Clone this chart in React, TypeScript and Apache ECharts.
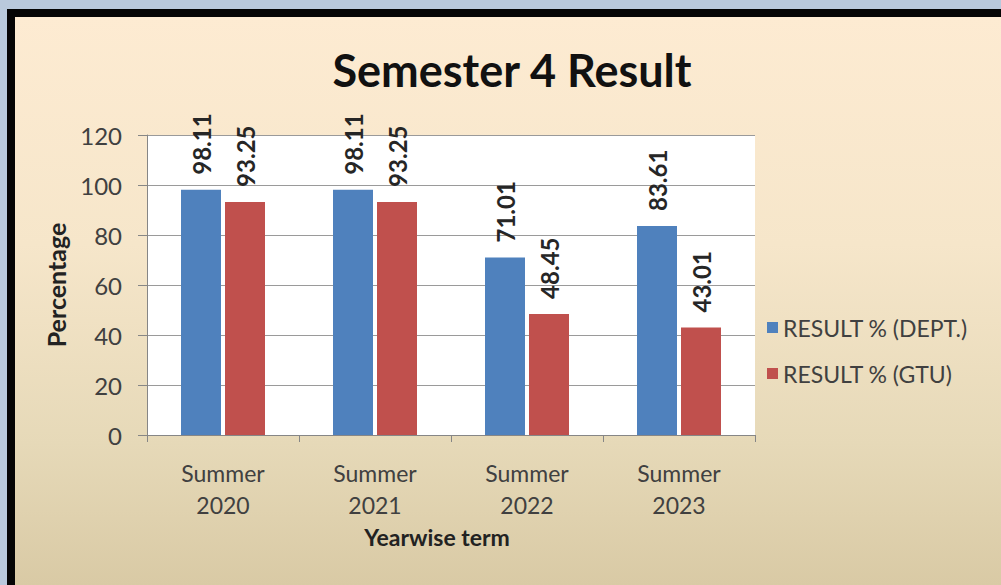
import React, { useEffect, useRef } from "react";
import * as echarts from "echarts";

const categories = ["Summer\n2020", "Summer\n2021", "Summer\n2022", "Summer\n2023"];
const deptValues = [98.11, 98.11, 71.01, 83.61];
const gtuValues = [93.25, 93.25, 48.45, 43.01];
const seriesNames = ["RESULT % (DEPT.)", "RESULT % (GTU)"];
const yTicks = { min: 0, max: 120, interval: 20 };

const FONT = "Lato, 'Open Sans', sans-serif";

export default function App() {
  const ref = useRef<HTMLDivElement>(null);
  useEffect(() => {
    document.body.style.margin = "0";
    if (!ref.current) return;
    const chart = echarts.init(ref.current, undefined, { renderer: "svg" });
    const labelCfg = {
      show: true,
      position: "top",
      rotate: 90,
      align: "left",
      verticalAlign: "middle",
      distance: 15,
      fontFamily: FONT,
      fontSize: 24,
      fontWeight: "bold",
      color: "#262626",
    };
    chart.setOption({
      animation: false,
      textStyle: { fontFamily: FONT },
      title: {
        text: "Semester 4 Result",
        left: 507,
        top: 42,
        textAlign: "center",
        textStyle: { fontFamily: FONT, fontSize: 45, fontWeight: "bold", color: "#111" },
      },
      legend: {
        orient: "vertical",
        left: 762,
        top: 311,
        itemWidth: 11,
        itemHeight: 11,
        itemGap: 23,
        icon: "rect",
        textStyle: { fontFamily: FONT, fontSize: 23, color: "#404040" },
        data: seriesNames,
      },
      grid: {
        left: 147,
        top: 135,
        width: 608,
        height: 300,
        show: true,
        backgroundColor: "#ffffff",
        borderWidth: 0,
      },
      xAxis: {
        type: "category",
        data: categories,
        name: "Yearwise term",
        nameLocation: "middle",
        nameGap: 89,
        nameTextStyle: {
          fontFamily: FONT,
          fontSize: 23,
          fontWeight: "bold",
          color: "#222",
          padding: [0, 28, 0, 0],
        },
        axisLine: { show: true, lineStyle: { color: "#868686", width: 1 } },
        axisTick: { show: true, length: 7, lineStyle: { color: "#868686" } },
        axisLabel: {
          fontFamily: FONT,
          fontSize: 23,
          lineHeight: 32,
          color: "#404040",
          margin: 22,
        },
      },
      yAxis: {
        type: "value",
        min: yTicks.min,
        max: yTicks.max,
        interval: yTicks.interval,
        name: "Percentage",
        nameLocation: "middle",
        nameRotate: 90,
        nameGap: 79,
        nameTextStyle: { fontFamily: FONT, fontSize: 25, fontWeight: "bold", color: "#222" },
        axisLine: { show: true, lineStyle: { color: "#868686", width: 1 } },
        axisTick: { show: true, length: 9, lineStyle: { color: "#868686" } },
        splitLine: { show: true, lineStyle: { color: "#9a9a9a", width: 1 } },
        axisLabel: { fontFamily: FONT, fontSize: 24, color: "#404040", margin: 25 },
      },
      series: [
        {
          name: seriesNames[0],
          type: "bar",
          data: deptValues,
          barWidth: 40,
          barGap: "10%",
          itemStyle: { color: "#4f81bd" },
          label: labelCfg,
        },
        {
          name: seriesNames[1],
          type: "bar",
          data: gtuValues,
          barWidth: 40,
          barGap: "10%",
          itemStyle: { color: "#c0504d" },
          label: labelCfg,
        },
      ],
    });
    return () => chart.dispose();
  }, []);

  return (
    <div style={{ position: "relative", width: 1001, height: 585, background: "#b9c9dc", overflow: "hidden" }}>
      <div
        style={{
          position: "absolute",
          left: 7,
          top: 9,
          right: 0,
          bottom: 0,
          borderTop: "8px solid #050505",
          borderLeft: "8px solid #050505",
          background: "linear-gradient(to bottom, #fdebd2 0%, #f6e6ca 40%, #e6d9b8 75%, #d9caa5 100%)",
        }}
      />
      <div ref={ref} style={{ position: "absolute", left: 0, top: 0, width: 1001, height: 585 }} />
    </div>
  );
}
